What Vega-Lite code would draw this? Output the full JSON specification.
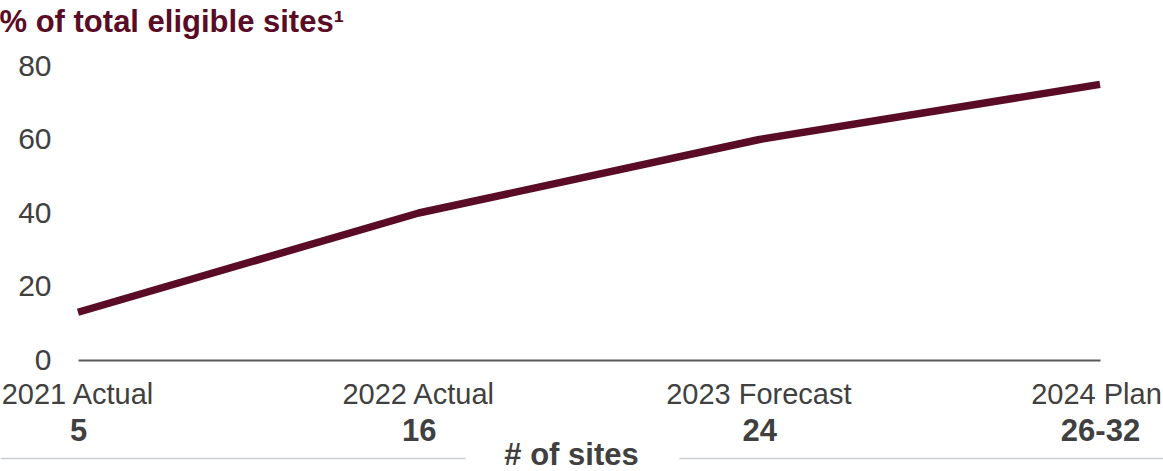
{
  "$schema": "https://vega.github.io/schema/vega-lite/v6.json",
  "width": 1163,
  "height": 471,
  "autosize": {"type": "none"},
  "padding": 0,
  "background": "white",
  "config": {"view": {"stroke": null}, "font": "Liberation Sans", "axis": {"grid": false}},
  "data": {"values": [
    {"period": "2021 Actual", "sites": "5", "pct": 13},
    {"period": "2022 Actual", "sites": "16", "pct": 40},
    {"period": "2023 Forecast", "sites": "24", "pct": 60},
    {"period": "2024 Plan", "sites": "26-32", "pct": 75}
  ]},
  "layer": [
    {
      "mark": {"type": "line", "color": "#5a0b25", "strokeWidth": 7.5, "strokeCap": "butt", "strokeJoin": "round"},
      "encoding": {
        "x": {"field": "period", "type": "ordinal", "sort": null,
          "scale": {"type": "point", "range": [78, 1100], "padding": 0},
          "axis": {"orient": "bottom", "offset": -111, "domainColor": "#595959", "domainWidth": 2, "ticks": false,
            "labelPadding": 43, "labelBaseline": "alphabetic", "labelFontSize": 29, "labelColor": "#404040",
            "labelAngle": 0, "labelOverlap": false, "labelBound": false, "labelFlush": false, "labelLimit": 0,
            "labelOffset": {"expr": "datum.label == '2024 Plan' ? -4 : -1"}, "title": null}},
        "y": {"field": "pct", "type": "quantitative",
          "scale": {"domain": [-30.2, 97.96], "nice": false, "zero": false},
          "axis": {"values": [0, 20, 40, 60, 80], "offset": -52, "domain": false, "ticks": false, "grid": false,
            "labelPadding": 1, "labelFontSize": 30, "labelColor": "#404040",
            "title": "% of total eligible sites¹", "titleAngle": 0, "titleX": -53, "titleY": 31,
            "titleAlign": "left", "titleBaseline": "alphabetic", "titleFontSize": 31, "titleFontWeight": "bold",
            "titleColor": "#5a0b25", "titleLimit": 0}}
      }
    },
    {
      "mark": {"type": "point", "opacity": 0},
      "encoding": {
        "x": {"field": "sites", "type": "ordinal", "sort": null,
          "scale": {"type": "point", "range": [78, 1100], "padding": 0},
          "axis": {"orient": "bottom", "offset": -111, "domain": false, "ticks": false,
            "labelPadding": 80, "labelBaseline": "alphabetic", "labelFontSize": 31, "labelFontWeight": "bold",
            "labelColor": "#404040", "labelAngle": 0, "labelOverlap": false, "labelBound": false, "labelFlush": false,
            "labelLimit": 0,
            "title": "# of sites", "titleX": 571, "titleY": 104, "titleAlign": "center", "titleBaseline": "alphabetic",
            "titleFontSize": 31, "titleFontWeight": "bold", "titleColor": "#404040"}}
      }
    },
    {
      "mark": {"type": "point", "opacity": 0},
      "encoding": {
        "x": {"field": "period", "type": "ordinal", "sort": null,
          "scale": {"type": "point", "range": [0, 465], "padding": 0},
          "axis": {"orient": "bottom", "offset": -13, "domainColor": "#c9cdd2", "domainWidth": 1.5,
            "ticks": false, "labels": false, "title": null}}
      }
    },
    {
      "mark": {"type": "point", "opacity": 0},
      "encoding": {
        "x": {"field": "period", "type": "ordinal", "sort": null,
          "scale": {"type": "point", "range": [679, 1163], "padding": 0},
          "axis": {"orient": "bottom", "offset": -13, "domainColor": "#c9cdd2", "domainWidth": 1.5,
            "ticks": false, "labels": false, "title": null}}
      }
    }
  ],
  "resolve": {"scale": {"x": "independent"}, "axis": {"x": "independent"}}
}
